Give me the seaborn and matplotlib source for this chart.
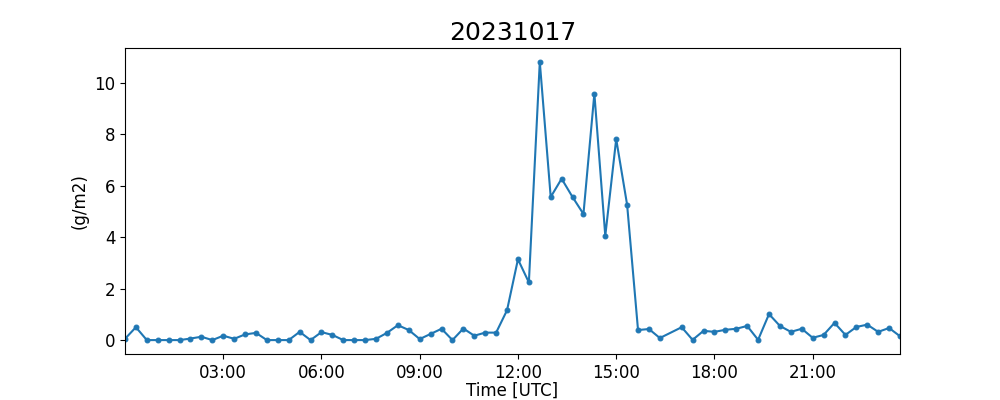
import pandas as pd
import matplotlib
matplotlib.use("Agg")
import matplotlib.pyplot as plt
import matplotlib.dates as mdates
import seaborn as sns

# 20-minute samples, 16:40 is missing in the record
times = ['00:00', '00:20', '00:40', '01:00', '01:20', '01:40', '02:00', '02:20', '02:40',
         '03:00', '03:20', '03:40', '04:00', '04:20', '04:40', '05:00', '05:20', '05:40',
         '06:00', '06:20', '06:40', '07:00', '07:20', '07:40', '08:00', '08:20', '08:40',
         '09:00', '09:20', '09:40', '10:00', '10:20', '10:40', '11:00', '11:20', '11:40',
         '12:00', '12:20', '12:40', '13:00', '13:20', '13:40', '14:00', '14:20', '14:40',
         '15:00', '15:20', '15:40', '16:00', '16:20',
         '17:00', '17:20', '17:40', '18:00', '18:20', '18:40', '19:00', '19:20', '19:40',
         '20:00', '20:20', '20:40', '21:00', '21:20', '21:40', '22:00', '22:20', '22:40',
         '23:00', '23:20', '23:40']

values = [0.05, 0.50, 0.0, 0.0, 0.0, 0.0, 0.06, 0.13, 0.0,
          0.17, 0.05, 0.22, 0.28, 0.0, 0.0, 0.0, 0.32, 0.0,
          0.31, 0.20, 0.0, 0.0, 0.0, 0.05, 0.28, 0.58, 0.39,
          0.04, 0.24, 0.44, 0.0, 0.45, 0.17, 0.29, 0.29, 1.16,
          3.14, 2.24, 10.81, 5.56, 6.27, 5.56, 4.90, 9.58, 4.05,
          7.81, 5.26, 0.39, 0.43, 0.08,
          0.50, 0.01, 0.36, 0.32, 0.40, 0.44, 0.55, 0.01, 1.01,
          0.55, 0.32, 0.44, 0.09, 0.20, 0.67, 0.20, 0.51, 0.60,
          0.32, 0.47, 0.15]

date = '2023-10-17'

df = pd.DataFrame({
    'time': pd.to_datetime([date + ' ' + t for t in times]),
    'value': values,
})

fig, ax = plt.subplots(figsize=(10, 4), dpi=100)
fig.subplots_adjust(bottom=0.115)

sns.lineplot(
    data=df, x='time', y='value', ax=ax,
    color='#1f77b4', marker='.', markersize=7,
    markeredgecolor='#1f77b4', linewidth=1.5,
)

ax.set_xlim(df['time'].iloc[0], df['time'].iloc[-1])
ax.xaxis.set_major_locator(mdates.HourLocator(byhour=range(3, 24, 3)))
ax.xaxis.set_major_formatter(mdates.DateFormatter('%H:%M'))

ax.set_title('20231017', fontsize=18)
ax.set_xlabel('Time [UTC]', fontsize=12, labelpad=0)
ax.set_ylabel('(g/m2)', fontsize=12)
ax.tick_params(labelsize=12)

plt.savefig('out.png', dpi=100)
